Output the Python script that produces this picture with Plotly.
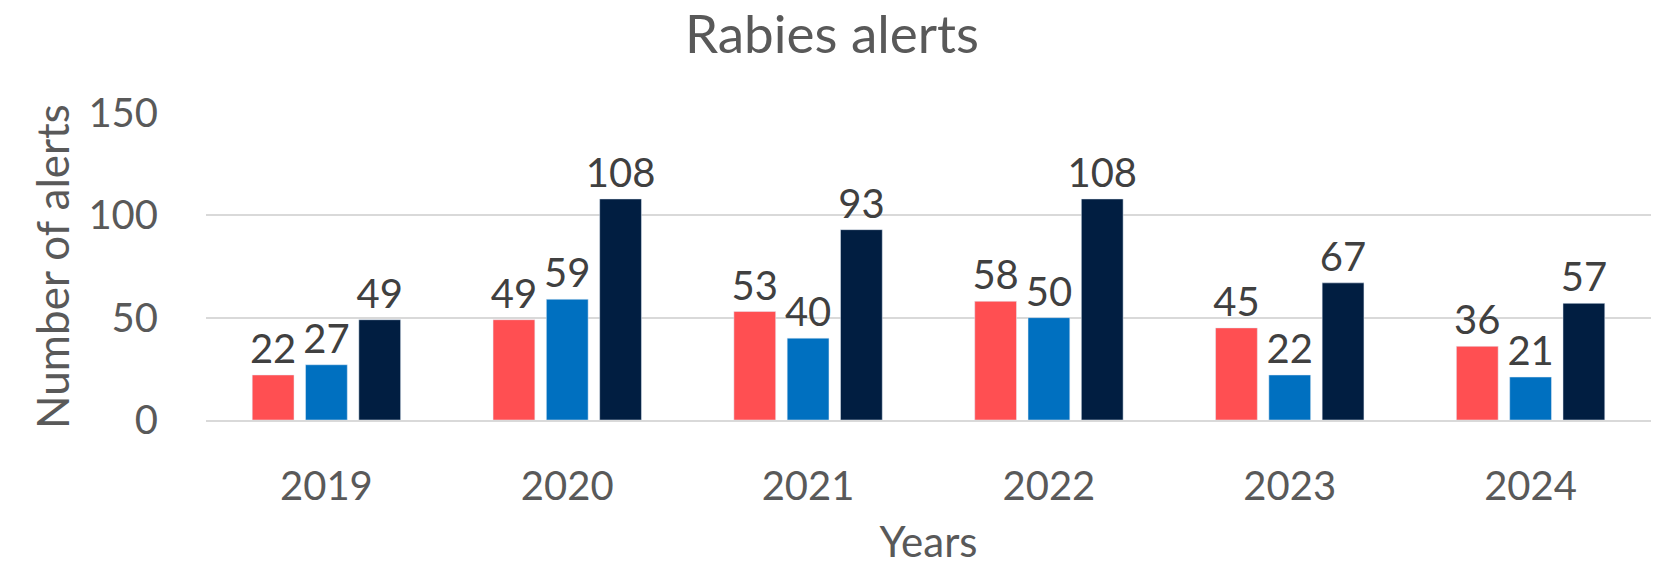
import plotly.graph_objects as go

years = ["2019", "2020", "2021", "2022", "2023", "2024"]
series_a = [22, 49, 53, 58, 45, 36]
series_b = [27, 59, 40, 50, 22, 21]
series_c = [49, 108, 93, 108, 67, 57]
series_names = ["Series 1", "Series 2", "Series 3"]
colors = ["#FF4F52", "#0070C0", "#011E41"]
y_ticks = [0, 50, 100, 150]

FONT = "Lato"
GREY = "#595959"
LABEL = "#404040"

fig = go.Figure()
for name, vals, col in zip(series_names, [series_a, series_b, series_c], colors):
    fig.add_trace(go.Bar(
        x=years, y=vals, name=name, marker_color=col,
        text=vals, textposition="outside", cliponaxis=False, constraintext="none",
        textfont=dict(family=FONT, size=40, color=LABEL),
    ))

fig.update_layout(
    width=1664, height=566,
    margin=dict(l=206, r=13, t=113, b=146),
    paper_bgcolor="white", plot_bgcolor="white",
    barmode="group", bargap=0.336, bargroupgap=0.216,
    showlegend=False,
    title=dict(text="Rabies alerts", x=0.5, xanchor="center", y=1 - 34/566, yanchor="middle",
               font=dict(family=FONT, size=53, color=GREY)),
    font=dict(family=FONT, color=GREY),
)
fig.update_yaxes(
    range=[0, 150], tickvals=y_ticks, showgrid=True, gridcolor="#D9D9D9", gridwidth=2,
    zeroline=False, showline=False, ticks="", ticklabelstandoff=47, automargin=False,
    tickfont=dict(family=FONT, size=40, color=GREY),
    title=dict(text="Number of alerts", font=dict(family=FONT, size=44, color=GREY), standoff=4),
)
fig.update_xaxes(
    showline=True, linecolor="#D9D9D9", linewidth=2, ticks="", ticklabelstandoff=30,
    automargin=False,
    tickfont=dict(family=FONT, size=40, color=GREY),
    title=dict(text="Years", font=dict(family=FONT, size=42, color=GREY), standoff=30),
)

fig.write_html(
    "out.html",
    config={"displayModeBar": False},
    post_script="document.body.style.margin='0';document.body.style.overflow='hidden';",
)
